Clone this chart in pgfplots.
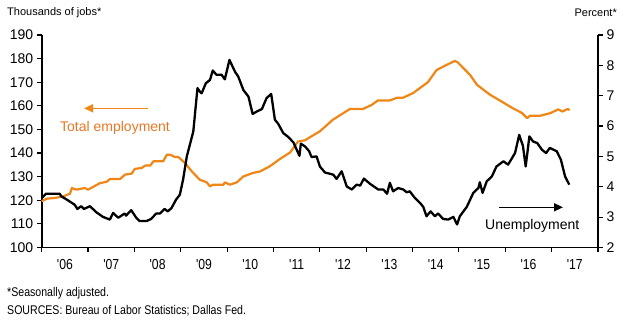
\documentclass[border=0pt]{standalone}
\usepackage{pgfplots}
\pgfplotsset{compat=1.18}
\usepackage{fontspec}
\setmainfont{Liberation Sans}
\newfontfamily\narrow[FakeStretch=0.84, Ligatures=TeXOff]{Liberation Sans}
\usetikzlibrary{arrows.meta}
\definecolor{emp}{RGB}{239,134,22}
\definecolor{emptext}{RGB}{233,118,36}
\begin{document}
\begin{tikzpicture}[x=1bp,y=1bp]
\useasboundingbox (0,0) rectangle (626,331);
\begin{axis}[
  at={(41.7bp,83.5bp)}, anchor=south west,
  scale only axis, width=556.3bp, height=212.5bp,
  xmin=2006, xmax=2018, ymin=100, ymax=190,
  axis x line*=bottom, axis y line*=left,
  axis line style={-, line width=1.6bp},
  ytick={100,110,...,190},
  xtick={2006.5,2007.5,...,2017.5},
  xticklabels={'06,'07,'08,'09,'10,'11,'12,'13,'14,'15,'16,'17},
  minor xtick={2006,2007,...,2018},
  major x tick style={draw=none},
  tick align=outside, major tick length=5bp, minor tick length=4bp,
  every tick/.style={black, line width=1.2bp},
  yticklabel style={font=\fontsize{14bp}{16bp}\selectfont},
  xticklabel style={font=\narrow\fontsize{14.5bp}{16bp}\selectfont, yshift=-3bp},
  /pgf/number format/assume math mode=true,
  clip=false,
]
\addplot[emp, line width=2.2bp, line join=round] coordinates {
(2006.00,119.6)(2006.11,120.7)(2006.29,121.0)(2006.47,121.7)(2006.61,122.8)
(2006.65,125.2)(2006.75,124.5)(2006.93,125.2)(2007.00,124.5)(2007.26,127.3)
(2007.40,127.8)(2007.47,129.0)(2007.69,129.0)(2007.80,130.9)(2007.94,131.3)
(2008.01,133.3)(2008.16,133.7)(2008.23,134.7)(2008.34,134.7)(2008.41,136.5)
(2008.62,136.5)(2008.70,139.3)(2008.77,139.3)(2008.88,138.3)(2008.95,138.3)
(2009.09,135.8)(2009.24,132.2)(2009.41,128.7)(2009.56,127.6)(2009.63,125.9)
(2009.70,126.6)(2009.92,126.6)(2009.95,127.6)(2010.06,126.6)(2010.21,127.6)
(2010.35,130.1)(2010.56,131.6)(2010.71,132.2)(2010.92,134.4)(2011.14,137.5)
(2011.36,140.3)(2011.53,144.9)(2011.68,145.4)(2011.81,147.0)(2012.00,149.2)
(2012.28,154.1)(2012.65,158.7)(2012.93,158.7)(2013.12,160.4)(2013.25,162.3)
(2013.51,162.3)(2013.66,163.4)(2013.79,163.4)(2014.01,165.4)(2014.33,170.0)
(2014.52,175.2)(2014.73,177.3)(2014.91,179.0)(2014.97,178.5)(2015.24,173.1)
(2015.39,168.9)(2015.67,164.7)(2015.88,162.3)(2016.16,159.0)(2016.36,157.0)
(2016.47,154.8)(2016.53,155.8)(2016.75,155.8)(2016.97,156.9)(2017.14,158.5)
(2017.23,157.6)(2017.34,158.6)(2017.39,158.3)
};
\end{axis}
\begin{axis}[
  at={(41.7bp,83.5bp)}, anchor=south west,
  scale only axis, width=556.3bp, height=212.5bp,
  xmin=2006, xmax=2018, ymin=2, ymax=9,
  axis x line=none, axis y line*=right,
  axis line style={-, line width=1.6bp},
  ytick={2,...,9},
  tick align=outside, major tick length=5bp,
  every tick/.style={black, line width=1.2bp},
  yticklabel style={font=\fontsize{14bp}{16bp}\selectfont},
  /pgf/number format/assume math mode=true,
  clip=false,
]
\addplot[black, line width=2.3bp, line join=round] coordinates {
(2006.00,3.63)(2006.09,3.77)(2006.39,3.77)(2006.42,3.69)(2006.57,3.55)
(2006.71,3.41)(2006.77,3.27)(2006.85,3.36)(2006.91,3.27)(2007.04,3.36)
(2007.18,3.16)(2007.32,3.01)(2007.47,2.92)(2007.54,3.14)(2007.65,2.98)
(2007.79,3.12)(2007.82,3.05)(2007.93,3.23)(2008.04,2.98)(2008.11,2.87)
(2008.26,2.87)(2008.36,2.94)(2008.47,3.12)(2008.55,3.12)(2008.65,3.27)
(2008.72,3.19)(2008.80,3.30)(2008.90,3.58)(2008.98,3.74)(2009.05,4.24)
(2009.13,5.00)(2009.27,5.82)(2009.36,7.25)(2009.41,7.14)(2009.45,7.08)
(2009.54,7.41)(2009.63,7.52)(2009.69,7.83)(2009.77,7.69)(2009.88,7.69)
(2009.95,7.54)(2010.05,8.18)(2010.17,7.79)(2010.24,7.63)(2010.35,7.19)
(2010.46,6.97)(2010.55,6.40)(2010.64,6.48)(2010.75,6.56)(2010.85,6.92)
(2010.95,7.06)(2011.03,6.21)(2011.10,6.08)(2011.21,5.77)(2011.32,5.64)
(2011.43,5.46)(2011.56,5.02)(2011.59,5.42)(2011.68,5.33)(2011.77,5.17)
(2011.82,4.98)(2011.93,5.00)(2012.00,4.67)(2012.11,4.47)(2012.29,4.40)
(2012.36,4.26)(2012.47,4.51)(2012.58,4.01)(2012.69,3.91)(2012.79,4.07)
(2012.87,4.04)(2012.95,4.27)(2013.08,4.10)(2013.26,3.91)(2013.37,3.91)
(2013.45,3.77)(2013.51,4.13)(2013.58,3.85)(2013.69,3.96)(2013.80,3.91)
(2013.87,3.82)(2013.94,3.85)(2014.05,3.63)(2014.16,3.47)(2014.23,3.34)
(2014.30,3.03)(2014.39,3.19)(2014.48,3.03)(2014.55,3.12)(2014.66,2.94)
(2014.77,2.92)(2014.88,3.01)(2014.96,2.76)(2015.02,3.03)(2015.17,3.34)
(2015.31,3.80)(2015.42,3.96)(2015.45,4.15)(2015.51,3.80)(2015.60,4.18)
(2015.71,4.34)(2015.81,4.67)(2015.96,4.84)(2016.06,4.73)(2016.21,5.11)
(2016.30,5.71)(2016.38,5.35)(2016.44,4.67)(2016.52,5.66)(2016.60,5.49)
(2016.69,5.44)(2016.79,5.22)(2016.88,5.11)(2016.96,5.28)(2017.11,5.17)
(2017.20,4.89)(2017.29,4.34)(2017.38,4.07)
};
\end{axis}
% titles
\node[anchor=west, inner sep=0pt, font=\fontsize{11bp}{13bp}\selectfont] at (7,318) {Thousands of jobs*};
\node[anchor=east, inner sep=0pt, font=\fontsize{11bp}{13bp}\selectfont] at (617,318) {Percent*};
% annotations
\draw[emp, line width=1.5bp, -{Triangle[length=9bp,width=8bp]}] (148,222.7) -- (84,222.7);
\node[anchor=west, inner sep=0pt, text=emptext, font=\fontsize{14bp}{16bp}\selectfont] at (60,203) {Total employment};
\draw[black, line width=1.5bp, -{Triangle[length=9bp,width=8bp]}] (499,123.7) -- (563,123.7);
\node[anchor=west, inner sep=0pt, font=\fontsize{14bp}{16bp}\selectfont] at (485,105) {Unemployment};
% footnotes
\node[anchor=west, inner sep=0pt, font=\narrow\fontsize{12.6bp}{14bp}\selectfont] at (7,38) {*Seasonally adjusted.};
\node[anchor=west, inner sep=0pt, font=\narrow\fontsize{12.6bp}{14bp}\selectfont] at (7,20) {SOURCES: Bureau of Labor Statistics; Dallas Fed.};
\end{tikzpicture}
\end{document}
